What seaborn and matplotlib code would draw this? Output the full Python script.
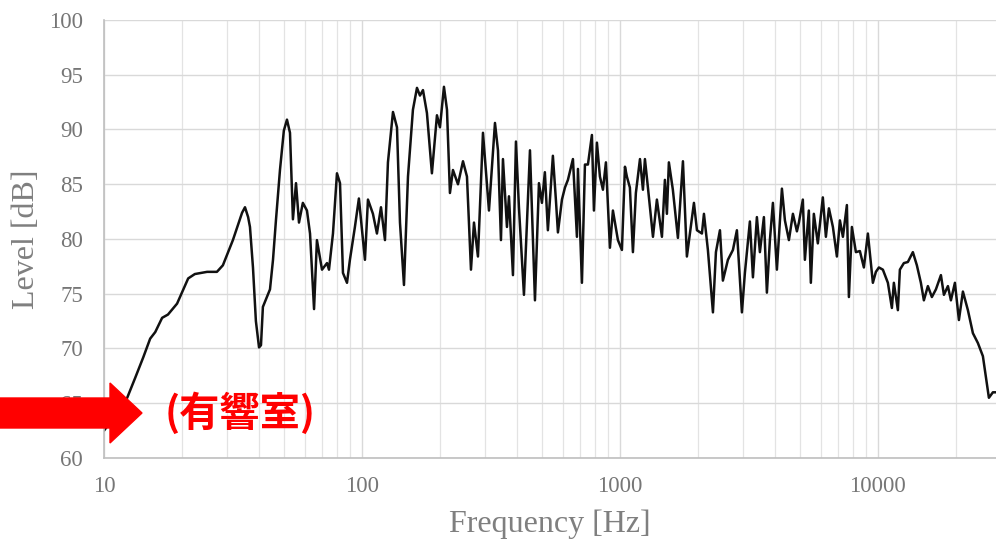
import numpy as np
import matplotlib
matplotlib.use("Agg")
import matplotlib.pyplot as plt
from matplotlib.patches import FancyArrow
from matplotlib.ticker import FixedLocator, NullFormatter
import seaborn as sns

# frequency response
freq = [
    10.0, 11.0, 12.3, 13.2, 14.2, 15.1, 15.8, 16.8, 17.7, 19.2,
    21.2, 22.5, 25.1, 27.4, 28.9, 31.6, 34.3, 35.2, 36.2, 36.8,
    37.8, 38.8, 39.9, 40.6, 41.3, 42.8, 44.0, 45.2, 46.4, 48.1,
    49.8, 51.2, 52.6, 54.0, 55.5, 57.0, 59.0, 61.2, 62.9, 65.2,
    66.9, 70.0, 73.2, 74.5, 77.2, 80.0, 82.2, 84.4, 87.5, 89.8,
    93.9, 97.3, 102.7, 105.5, 110.3, 114.3, 118.5, 122.8, 126.1, 131.9,
    136.7, 140.4, 145.5, 150.8, 157.6, 163.4, 167.8, 172.4, 178.6, 186.7,
    195.3, 200.6, 207.9, 213.6, 219.3, 225.3, 235.6, 246.4, 255.3, 264.6,
    271.8, 281.6, 294.5, 310.7, 327.8, 336.7, 345.8, 352.0, 364.8, 371.4,
    384.9, 395.3, 406.0, 424.6, 448.0, 468.4, 485.4, 498.5, 511.7, 525.7,
    549.7, 564.6, 575.0, 596.0, 612.2, 628.7, 657.4, 681.3, 687.5, 712.4,
    731.8, 751.6, 778.8, 792.9, 814.4, 836.5, 859.3, 882.5, 914.6, 939.4,
    982.3, 1018, 1046, 1064, 1093, 1123, 1153, 1196, 1228, 1250,
    1284, 1343, 1391, 1455, 1494, 1521, 1548, 1604, 1678, 1755,
    1818, 1867, 1936, 1989, 2079, 2117, 2193, 2294, 2356, 2442,
    2507, 2622, 2742, 2841, 2971, 3051, 3190, 3278, 3396, 3488,
    3615, 3713, 3814, 3918, 4060, 4246, 4361, 4519, 4684, 4854,
    4941, 5118, 5212, 5399, 5497, 5646, 5851, 6118, 6287, 6459,
    6693, 6936, 7125, 7318, 7583, 7720, 7929, 8217, 8515, 8825,
    9146, 9563, 9823, 10090, 10456, 10934, 11330, 11534, 11954, 12169,
    12611, 13069, 13665, 14162, 14678, 15076, 15624, 16192, 16785, 17552,
    18029, 18684, 19190, 19889, 20611, 21360, 22334, 23352, 24417, 25530,
    26937, 27916, 28672,
]
level = [
    62.5, 63.8, 65.5, 67.3, 69.2, 70.9, 71.5, 72.8, 73.1, 74.1,
    76.4, 76.8, 77.0, 77.0, 77.6, 79.9, 82.4, 82.9, 82.0, 81.1,
    77.4, 72.5, 70.1, 70.3, 73.8, 74.7, 75.4, 78.1, 81.7, 86.3,
    89.9, 90.9, 89.7, 81.8, 85.1, 81.5, 83.3, 82.6, 80.5, 73.6,
    79.9, 77.2, 77.8, 77.2, 80.5, 86.0, 85.1, 76.9, 76.0, 78.1,
    81.1, 83.7, 78.1, 83.6, 82.3, 80.5, 82.9, 79.9, 87.0, 91.6,
    90.2, 81.5, 75.8, 85.7, 91.8, 93.8, 93.1, 93.6, 91.5, 86.0,
    91.3, 90.2, 93.9, 91.8, 84.2, 86.3, 85.0, 87.1, 85.7, 77.2,
    81.5, 78.4, 89.7, 82.6, 90.6, 88.1, 79.9, 87.3, 81.1, 83.9,
    76.7, 88.9, 82.9, 74.9, 88.1, 74.4, 85.1, 83.3, 86.1, 80.8,
    87.6, 83.6, 80.6, 83.6, 84.7, 85.4, 87.3, 80.2, 86.4, 76.0,
    86.8, 86.8, 89.5, 82.6, 88.8, 85.7, 84.5, 87.0, 79.2, 82.6,
    79.9, 79.0, 86.6, 85.7, 84.7, 78.8, 84.2, 87.3, 84.5, 87.3,
    84.7, 80.2, 83.6, 80.2, 85.4, 82.3, 87.0, 84.5, 80.1, 87.1,
    78.4, 80.5, 83.3, 80.8, 80.5, 82.3, 79.0, 73.3, 78.8, 80.8,
    76.2, 78.1, 79.0, 80.8, 73.3, 76.9, 81.6, 76.5, 82.0, 78.8,
    82.0, 75.1, 79.9, 83.3, 77.2, 84.6, 81.7, 79.9, 82.3, 80.7,
    81.5, 83.6, 78.1, 82.6, 76.0, 82.3, 79.6, 83.8, 80.2, 82.8,
    81.1, 78.4, 81.7, 80.2, 83.1, 74.7, 81.1, 78.8, 78.9, 77.4,
    80.5, 76.0, 77.0, 77.4, 77.2, 76.0, 73.7, 76.0, 73.5, 77.2,
    77.8, 77.9, 78.8, 77.6, 76.0, 74.4, 75.7, 74.7, 75.4, 76.7,
    74.9, 75.7, 74.4, 76.0, 72.6, 75.2, 73.5, 71.4, 70.5, 69.3,
    65.5, 66.0, 66.0,
]

x_ticks = [10, 100, 1000, 10000]
x_tick_labels = ["10", "100", "1000", "10000"]
y_ticks = [60, 65, 70, 75, 80, 85, 90, 95, 100]
note_text = "(有響室)"

sns.set_theme(style="whitegrid")
plt.rcParams["font.family"] = ["Liberation Serif", "DejaVu Serif"]

fig = plt.figure(figsize=(9.96, 5.4), dpi=100)
ax = fig.add_axes([104 / 996, 82 / 540, 892 / 996, 438 / 540])

sns.lineplot(x=freq, y=level, color="#111111", linewidth=1.8, ax=ax)

ax.set_xscale("log")
ax.set_xlim(10, 28700)
ax.set_ylim(60, 100)
ax.xaxis.set_major_locator(FixedLocator(x_ticks))
ax.set_xticklabels(x_tick_labels)
ax.xaxis.set_minor_locator(FixedLocator(
    [m * d for d in [10, 100, 1000, 10000] for m in range(2, 10)]))
ax.xaxis.set_minor_formatter(NullFormatter())
ax.set_yticks(y_ticks)

ax.set_facecolor("white")
ax.grid(True, which="major", color="#d9d9d9", linewidth=1.0)
ax.grid(True, which="minor", axis="x", color="#e3e3e3", linewidth=0.9)
ax.tick_params(axis="both", which="both", length=0, labelsize=16.5,
               labelcolor="#767676")
ax.tick_params(axis="x", pad=13)
ax.tick_params(axis="y", pad=15)

for side in ["top", "right"]:
    ax.spines[side].set_visible(False)
for side in ["left", "bottom"]:
    ax.spines[side].set_color("#bfbfbf")
    ax.spines[side].set_linewidth(1.2)

ax.set_xlabel("Frequency [Hz]", fontsize=23, color="#7f7f7f", labelpad=9)
ax.set_ylabel("Level [dB]", fontsize=23, color="#7f7f7f", labelpad=6)

# red arrow + label on the left
arrow = FancyArrow(0, 1.27, 1.42, 0, width=0.30, head_width=0.60,
                   head_length=0.32, length_includes_head=True,
                   color="#ff0000", transform=fig.dpi_scale_trans)
fig.add_artist(arrow)
fig.text(165 / 996, (540 - 414) / 540, note_text, color="#ff0000",
         fontsize=29, fontweight="bold", va="center", ha="left",
         family=["Noto Sans CJK JP", "DejaVu Sans"])

fig.savefig("out.png", dpi=100)
